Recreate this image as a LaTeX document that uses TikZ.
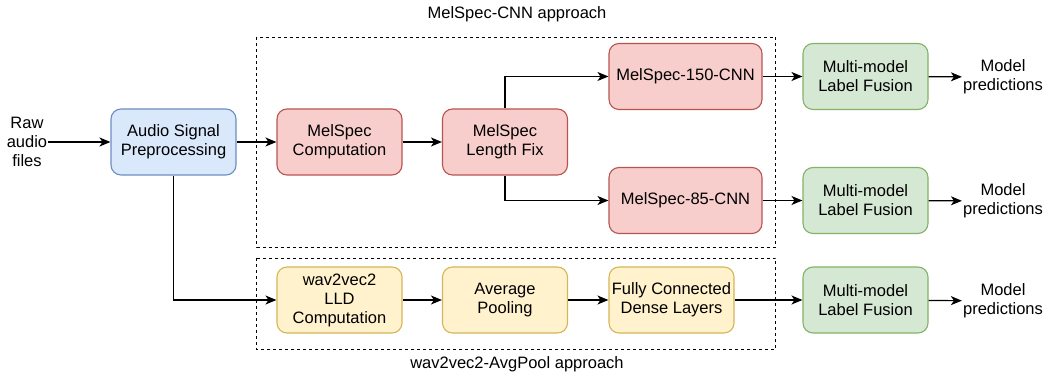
\documentclass[tikz,border=0pt]{standalone}
\usepackage{fontspec}
\setmainfont{Liberation Sans}
\usetikzlibrary{arrows.meta}

\definecolor{prepfill}{HTML}{DAE8FC}
\definecolor{prepline}{HTML}{6C8EBF}
\definecolor{melfill}{HTML}{F8CECC}
\definecolor{melline}{HTML}{B85450}
\definecolor{wavfill}{HTML}{FFF2CC}
\definecolor{wavline}{HTML}{D6B656}
\definecolor{fusefill}{HTML}{D5E8D4}
\definecolor{fuseline}{HTML}{82B366}

\tikzset{
  block/.style={rectangle, rounded corners=10pt, line width=1.1pt, align=center,
    minimum width=125pt, minimum height=66pt, inner sep=2pt,
    font=\fontsize{16.5}{19}\selectfont},
  prepbox/.style={block, draw=prepline, fill=prepfill},
  melbox/.style={block, draw=melline, fill=melfill},
  wavbox/.style={block, draw=wavline, fill=wavfill},
  fusebox/.style={block, draw=fuseline, fill=fusefill},
  plain/.style={align=center, inner sep=1pt, font=\fontsize{16.5}{19}\selectfont},
  flow/.style={-{Stealth[length=11pt,width=9pt,inset=3pt]}, line width=1.2pt},
  group/.style={draw, dash pattern=on 3pt off 3pt, line width=0.9pt}
}

\begin{document}
\begin{tikzpicture}[x=1pt, y=-1pt]
  \useasboundingbox (0,0) rectangle (1048,379);

  % Dashed groups
  \draw[group] (256.5,37) rectangle (775.5,247);
  \draw[group] (256.5,258) rectangle (775.5,349.5);
  \node[plain] (melgroup) at (517,14) {MelSpec-CNN approach};
  \node[plain] (wavgroup) at (517,364) {wav2vec2-AvgPool approach};

  % Input and preprocessing
  \node[plain] (raw) at (27,142) {Raw\\audio\\files};
  \node[prepbox] (prep) at (173.5,142) {Audio Signal\\Preprocessing};

  % MelSpec branch
  \node[melbox] (melcomp) at (339.5,142) {MelSpec\\Computation};
  \node[melbox] (lenfix) at (505,142) {MelSpec\\Length Fix};
  \node[melbox, minimum width=153pt] (cnn150) at (685.5,76.5) {MelSpec-150-CNN};
  \node[melbox, minimum width=153pt] (cnn85) at (685.5,200.5) {MelSpec-85-CNN};

  % wav2vec2 branch
  \node[wavbox] (lld) at (339.5,300) {wav2vec2\\LLD\\Computation};
  \node[wavbox] (pool) at (505,300) {Average\\Pooling};
  \node[wavbox] (dense) at (671.5,300) {Fully Connected\\Dense Layers};

  % Fusion and outputs
  \node[fusebox] (fuse1) at (865.5,76.5) {Multi-model\\Label Fusion};
  \node[fusebox] (fuse2) at (865.5,200.5) {Multi-model\\Label Fusion};
  \node[fusebox] (fuse3) at (865.5,300) {Multi-model\\Label Fusion};
  \node[plain] (pred1) at (1003,77) {Model\\predictions};
  \node[plain] (pred2) at (1003,201) {Model\\predictions};
  \node[plain] (pred3) at (1003,301) {Model\\predictions};

  % Arrows
  \draw[flow] (raw) -- (prep);
  \draw[flow] (prep) -- (melcomp);
  \draw[flow] (melcomp) -- (lenfix);
  \draw[flow] (lenfix.north) |- (cnn150.west);
  \draw[flow] (lenfix.south) |- (cnn85.west);
  \draw[flow] (prep.south) |- (lld.west);
  \draw[flow] (lld) -- (pool);
  \draw[flow] (pool) -- (dense);
  \draw[flow] (dense) -- (fuse3);
  \draw[flow] (cnn150) -- (fuse1);
  \draw[flow] (cnn85) -- (fuse2);
  \draw[flow] (fuse1) -- (pred1);
  \draw[flow] (fuse2) -- (pred2);
  \draw[flow] (fuse3) -- (pred3);
\end{tikzpicture}
\end{document}
